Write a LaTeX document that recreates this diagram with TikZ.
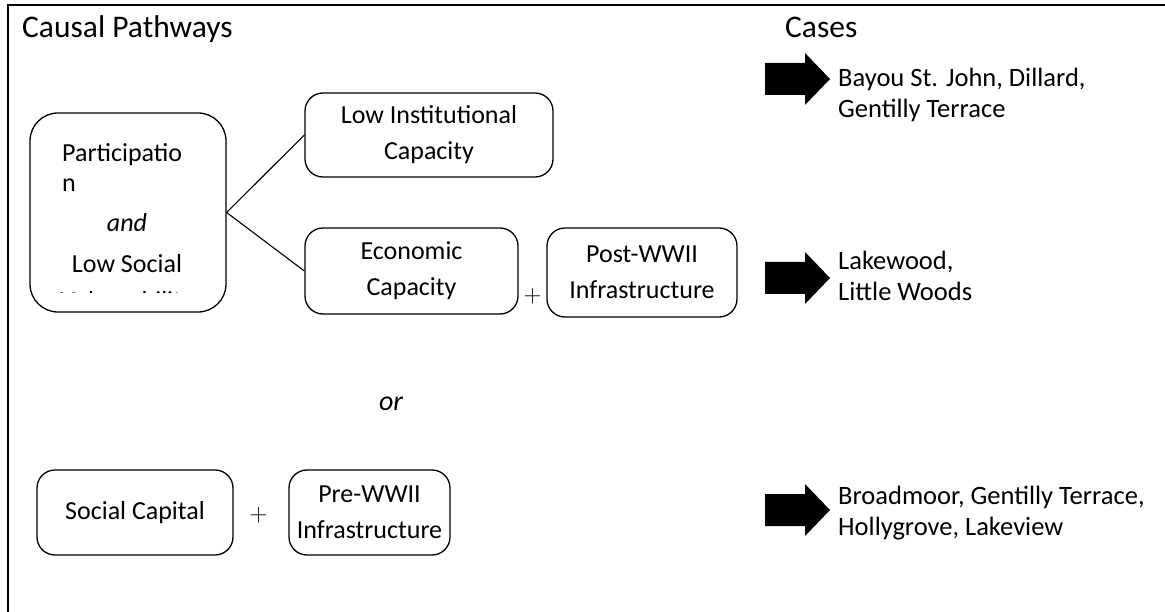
\documentclass[tikz,border=0pt]{standalone}
\usepackage{fontspec}
\setmainfont{Carlito}
\begin{document}
\begin{tikzpicture}[x=1pt,y=-1pt,
  box/.style={draw, line width=1.3pt, rounded corners=18pt, inner sep=0pt},
  txt/.style={font=\fontsize{26}{36}\selectfont, align=center, inner sep=0pt},
  hd/.style={font=\fontsize{31.5}{36}\selectfont, inner sep=0pt, anchor=base west},
  cs/.style={font=\fontsize{26.5}{31}\selectfont, inner sep=0pt, anchor=base west},
  blk/.style={fill=black},
  conn/.style={line width=1.1pt},
  plus/.style={font=\fontsize{24}{30}\selectfont, inner sep=0pt}]
\useasboundingbox (0,0) rectangle (1165,612);
\draw[line width=1.5pt] (8,612) -- (8,5) -- (1165,5);

\node[hd] (t1) at (22,38) {Causal Pathways};
\node[hd] (t2) at (785,38) {Cases};

% participation box
\node[box, rounded corners=28pt, minimum width=196pt, minimum height=199pt] (part) at (128,212.5) {};
\begin{scope}
\clip (30,113) rectangle (226,293);
\node[txt, anchor=base west] (p1) at (62,162) {Participatio};
\node[txt, anchor=base west] (p2) at (62,192) {n};
\node[txt, anchor=base] (p3) at (127,232) {\itshape and};
\node[txt, anchor=base] (p4) at (127,273) {Low Social};
\node[txt, anchor=base] (p5) at (127,310) {Vulnerability};
\end{scope}

\node[box, minimum width=248pt, minimum height=84pt, txt] (lic) at (429,135) {Low Institutional\\Capacity};
\node[box, minimum width=213pt, minimum height=86pt, txt] (econ) at (411.5,271) {Economic\\Capacity};
\node[plus] (pl1) at (532.5,296) {$+$};
\node[box, minimum width=190pt, minimum height=89pt, txt] (post) at (642,272.5) {Post-WWII\\Infrastructure};

\draw[conn] (part.east) -- (lic.west);
\draw[conn] (part.east) -- (econ.west);

\node[txt, anchor=base] (or) at (391,410) {\fontsize{28}{30}\selectfont\itshape or};

\node[box, minimum width=196pt, minimum height=85pt, txt] (soc) at (135,512.5) {Social Capital};
\node[plus] (pl2) at (258.5,515) {$+$};
\node[box, minimum width=161pt, minimum height=85pt, txt] (pre) at (369.5,512.5) {Pre-WWII\\Infrastructure};

% block arrows
\coordinate (a1) at (765,79);
\coordinate (a2) at (765,278);
\coordinate (a3) at (765,510);
\foreach \a in {a1,a2,a3}
  \fill[blk, shift={(\a)}] (0,-16) -- (40,-16) -- (40,-26) -- (65,0) -- (40,26) -- (40,16) -- (0,16) -- cycle;

\node[cs] (c1a) at (838,87) {Bayou St. John, Dillard,};
\node[cs] (c1b) at (838,118) {Gentilly Terrace};
\node[cs] (c2a) at (838,270) {Lakewood,};
\node[cs] (c2b) at (838,301) {Little Woods};
\node[cs] (c3a) at (838,504) {Broadmoor, Gentilly Terrace,};
\node[cs] (c3b) at (838,535) {Hollygrove, Lakeview};
\end{tikzpicture}
\end{document}
